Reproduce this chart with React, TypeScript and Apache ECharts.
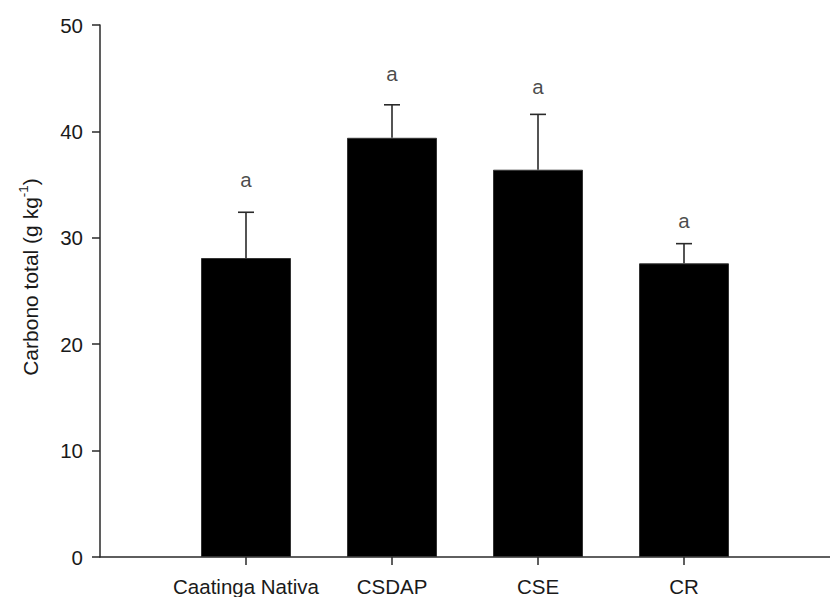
import React, { useEffect, useRef } from "react";
import * as echarts from "echarts";

const categories = ["Caatinga Nativa", "CSDAP", "CSE", "CR"];
const means = [28.1, 39.4, 36.4, 27.6];
const upperErr = [32.4, 42.5, 41.6, 29.45];
const letters = ["a", "a", "a", "a"];
const letterY = [35.5, 45.4, 44.2, 31.6];
const yTicks = [0, 10, 20, 30, 40, 50];

const FONT = "'Liberation Sans', Arial, sans-serif";

export default function App() {
  const ref = useRef<HTMLDivElement>(null);
  useEffect(() => {
    if (!ref.current) return;
    const chart = echarts.init(ref.current, undefined, { renderer: "svg" });
    const pos = categories.map((_, i) => i + 1);
    chart.setOption({
      animation: false,
      backgroundColor: "#ffffff",
      grid: { left: 100, top: 25, height: 533, width: 738 },
      xAxis: {
        type: "value",
        min: 0,
        max: 5,
        interval: 1,
        splitLine: { show: false },
        axisLine: { show: true, lineStyle: { color: "#2a2a2a", width: 1.5 } },
        axisTick: { show: true, customValues: pos, length: 8, lineStyle: { color: "#2a2a2a", width: 1.5 } },
        axisLabel: {
          customValues: pos,
          formatter: (v: number) => categories[Math.round(v) - 1] ?? "",
          color: "#1a1a1a",
          fontSize: 20.5,
          fontFamily: FONT,
          margin: 19,
        },
      },
      yAxis: {
        type: "value",
        min: yTicks[0],
        max: yTicks[yTicks.length - 1],
        interval: 10,
        splitLine: { show: false },
        axisLine: { show: true, lineStyle: { color: "#2a2a2a", width: 1.5 } },
        axisTick: { show: true, length: 8, lineStyle: { color: "#2a2a2a", width: 1.5 } },
        axisLabel: { color: "#1a1a1a", fontSize: 20.5, fontFamily: FONT, margin: 17 },
        name: "Carbono total (g kg{sup|-1})",
        nameLocation: "middle",
        nameGap: 56,
        nameRotate: 90,
        nameTextStyle: {
          color: "#1a1a1a",
          fontSize: 21,
          fontFamily: FONT,
          lineHeight: 28,
          padding: [0, 0, 0, 28],
          rich: {
            sup: { fontSize: 13.5, fontFamily: FONT, color: "#1a1a1a", verticalAlign: "top", lineHeight: 14 },
          },
        },
      },
      series: [
        {
          type: "bar",
          data: means.map((m, i) => [pos[i], m]),
          barWidth: 90,
          itemStyle: { color: "#000000", borderColor: "#333", borderWidth: 1 },
        },
        {
          type: "custom",
          data: upperErr.map((u, i) => [pos[i], means[i], u]),
          renderItem: (params: any, api: any) => {
            const x = api.value(0);
            const p0 = api.coord([x, api.value(1)]);
            const p1 = api.coord([x, api.value(2)]);
            const style = { stroke: "#2a2a2a", lineWidth: 1.6 };
            return {
              type: "group",
              children: [
                { type: "line", shape: { x1: p0[0], y1: p0[1], x2: p1[0], y2: p1[1] }, style },
                { type: "line", shape: { x1: p1[0] - 8, y1: p1[1], x2: p1[0] + 8, y2: p1[1] }, style },
              ],
            };
          },
          z: 5,
        },
        {
          type: "scatter",
          data: letterY.map((y, i) => [pos[i], y]),
          symbolSize: 0,
          label: {
            show: true,
            position: "inside",
            formatter: (p: any) => letters[p.dataIndex],
            color: "#1a1a1a",
            fontSize: 20.5,
            fontFamily: FONT,
          },
        },
      ],
    });
    return () => chart.dispose();
  }, []);
  return (
    <div
      ref={ref}
      style={{ position: "fixed", left: 0, top: 0, width: 830, height: 597, overflow: "hidden", background: "#fff" }}
    />
  );
}
